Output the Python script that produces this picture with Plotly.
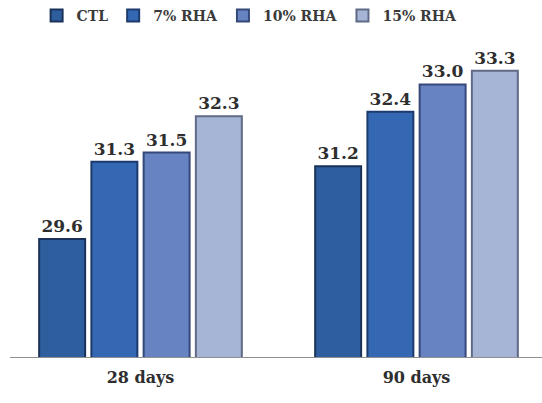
import plotly.graph_objects as go

# Compressive strength by curing age and rice-husk-ash replacement
ages = ["28 days", "90 days"]
series_names = ["CTL", "7% RHA", "10% RHA", "15% RHA"]
ctl = [29.6, 31.2]
rha7 = [31.3, 32.4]
rha10 = [31.5, 33.0]
rha15 = [32.3, 33.3]

fills = ["#2f5e9e", "#3468b3", "#6783c2", "#a6b5d5"]
edges = ["#1a3258", "#1c3a6c", "#34487a", "#5f6a86"]

serif = "DejaVu Serif"

fig = go.Figure()
for name, vals, fc, ec in zip(series_names, [ctl, rha7, rha10, rha15], fills, edges):
    fig.add_trace(go.Bar(
        x=ages, y=vals, name=name,
        marker=dict(color=fc, line=dict(color=ec, width=2)),
        text=[f"{v:.1f}" for v in vals], textposition="outside",
        textfont=dict(family=serif, size=17, color="#2e2e2e", weight="bold"),
        cliponaxis=False,
    ))

fig.update_layout(
    width=542, height=403,
    margin=dict(l=10, r=0, t=39, b=46),
    paper_bgcolor="white", plot_bgcolor="white",
    barmode="group", bargap=0.243, bargroupgap=0.12,
    font=dict(family=serif, color="#333333"),
    showlegend=True,
    legend=dict(orientation="h", x=0.05, xanchor="left", y=1.0, yanchor="top",
                yref="container", font=dict(family=serif, size=14, color="#3a3a3a",
                                            weight="bold"),
                itemwidth=30, traceorder="normal"),
    xaxis=dict(type="category", range=[-0.4728, 1.4547], showgrid=False,
               showline=True, linecolor="#909090", linewidth=1, ticks="",
               tickfont=dict(family=serif, size=16, color="#2e2e2e", weight="bold"),
               ticklabelstandoff=6),
    yaxis=dict(range=[27, 34], visible=False, showgrid=False),
)
fig.write_html("out.html")
